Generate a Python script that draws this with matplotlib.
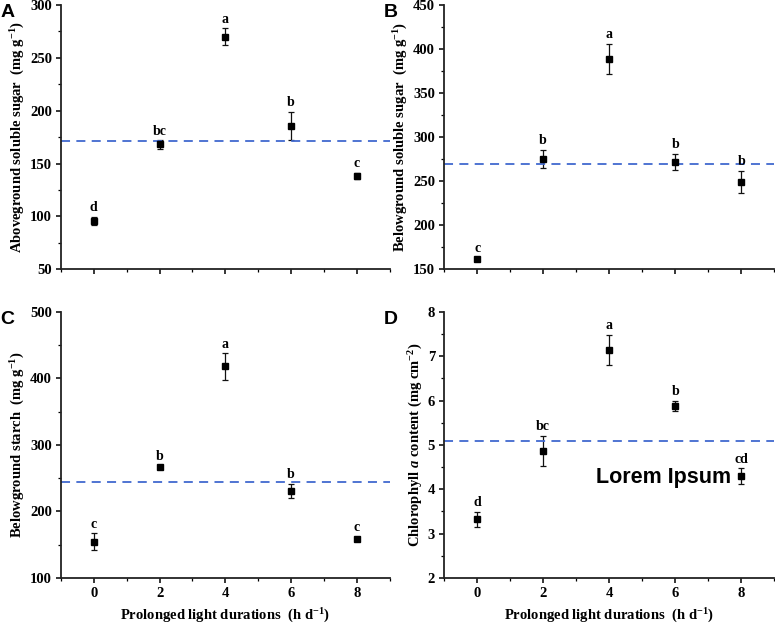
import numpy as np
import matplotlib
matplotlib.use("Agg")
import matplotlib.pyplot as plt
from matplotlib.ticker import MultipleLocator

# light durations (h d-1)
hours = [0, 2, 4, 6, 8]

above_sugar = [95.5, 168, 270, 185.5, 138]
above_sugar_err = [4, 4, 8, 13.5, 3]
above_sugar_letters = ["d", "bc", "a", "b", "c"]
above_sugar_ref = 171.5

below_sugar = [161, 275, 389, 272, 249]
below_sugar_err = [2, 10.5, 17, 9, 13]
below_sugar_letters = ["c", "b", "a", "b", "b"]
below_sugar_ref = 269

below_starch = [154.5, 266.5, 418, 231, 158.5]
below_starch_err = [12.5, 3, 20, 11, 3]
below_starch_letters = ["c", "b", "a", "b", "c"]
below_starch_ref = 245

chl_a = [3.32, 4.87, 7.14, 5.88, 4.29]
chl_a_err = [0.17, 0.34, 0.34, 0.12, 0.18]
chl_a_letters = ["d", "bc", "a", "b", "cd"]
chl_a_ref = 5.1

serif = ["Liberation Serif", "DejaVu Serif"]
plt.rcParams["font.family"] = serif
plt.rcParams["mathtext.fontset"] = "custom"
plt.rcParams["mathtext.rm"] = "Liberation Serif:bold"
plt.rcParams["mathtext.it"] = "Liberation Serif:bold:italic"
plt.rcParams["mathtext.bf"] = "Liberation Serif:bold"

fig = plt.figure(figsize=(7.75, 6.26), dpi=100)

boxes = {
    "A": [0.0787, 0.570, 0.424, 0.422],
    "B": [0.573, 0.570, 0.426, 0.422],
    "C": [0.0787, 0.0767, 0.424, 0.425],
    "D": [0.573, 0.0767, 0.426, 0.425],
}

panels = [
    ("A", above_sugar, above_sugar_err, above_sugar_letters, above_sugar_ref,
     (50, 300), 50, 25, r"Aboveground soluble sugar  (mg g$^{-1}$)"),
    ("B", below_sugar, below_sugar_err, below_sugar_letters, below_sugar_ref,
     (150, 450), 50, 25, r"Belowground soluble sugar  (mg g$^{-1}$)"),
    ("C", below_starch, below_starch_err, below_starch_letters, below_starch_ref,
     (100, 500), 100, 50, r"Belowground starch  (mg g$^{-1}$)"),
    ("D", chl_a, chl_a_err, chl_a_letters, chl_a_ref,
     (2, 8), 1, 0.5, r"Chlorophyll $a$ content (mg cm$^{-2}$)"),
]

for name, vals, errs, letters, ref, ylim, major, minor, ylabel in panels:
    ax = fig.add_axes(boxes[name])
    ax.errorbar(hours, vals, yerr=errs, fmt="s", color="black", ms=4.5,
                ecolor="#111111", elinewidth=0.9, capsize=2.5, capthick=0.9)
    ax.axhline(ref, color="#4169cf", ls=(0, (5, 3.5)), lw=1.3)
    span = ylim[1] - ylim[0]
    for x, v, e, t in zip(hours, vals, errs, letters):
        ax.text(x, v + e + span * 0.01, t, ha="center", va="bottom",
                fontsize=10, fontweight="bold")
    ax.set_xlim(-1, 9)
    ax.set_ylim(*ylim)
    ax.xaxis.set_major_locator(MultipleLocator(2))
    ax.xaxis.set_minor_locator(MultipleLocator(1))
    ax.yaxis.set_major_locator(MultipleLocator(major))
    ax.yaxis.set_minor_locator(MultipleLocator(minor))
    ax.spines["top"].set_visible(False)
    ax.spines["right"].set_visible(False)
    for s in ("left", "bottom"):
        ax.spines[s].set_linewidth(1.3)
        ax.spines[s].set_color("#222222")
    ax.tick_params(which="major", direction="out", length=3.5, width=1.1,
                   labelsize=10.5, pad=3)
    ax.tick_params(which="minor", direction="out", length=2, width=0.9)
    for lab in ax.get_yticklabels() + ax.get_xticklabels():
        lab.set_fontweight("bold")
    ax.set_ylabel(ylabel, fontsize=10.5, fontweight="bold", labelpad=2)
    if name in ("A", "B"):
        ax.tick_params(axis="x", labelbottom=False)
    else:
        ax.set_xlabel(r"Prolonged light durations  (h d$^{-1}$)",
                      fontsize=10.5, fontweight="bold", labelpad=5)
    if name == "D":
        ax.text(5.64, 4.27, "Lorem Ipsum", ha="center", va="center",
                fontsize=15.5, fontweight="bold", family="Liberation Sans")
    pos = boxes[name]
    fig.text(pos[0] - 0.078, pos[1] + pos[3] + 0.002, name, ha="left",
             va="top", fontsize=14, fontweight="bold", family="Liberation Sans")

fig.savefig("out.png", dpi=100)
